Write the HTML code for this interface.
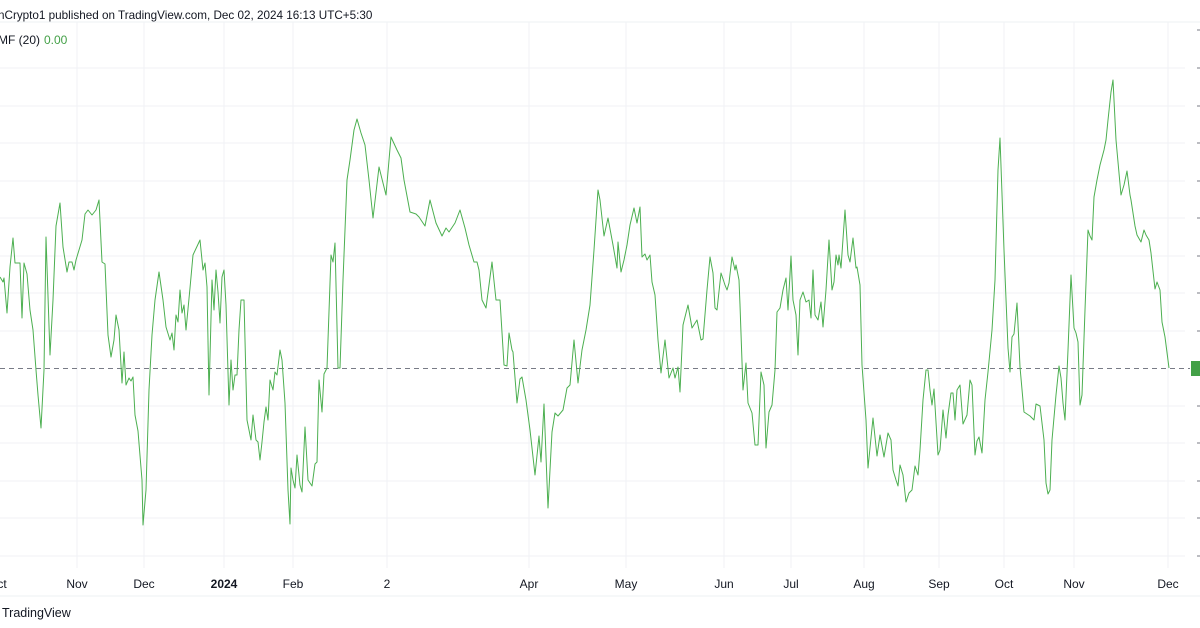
<!DOCTYPE html>
<html><head><meta charset="utf-8"><style>
html,body{margin:0;padding:0;background:#fff;}
body{width:1200px;height:628px;overflow:hidden;position:relative;font-family:"Liberation Sans",sans-serif;}
</style></head><body>
<svg width="1200" height="628" viewBox="0 0 1200 628" xmlns="http://www.w3.org/2000/svg" style="position:absolute;left:0;top:0">
<text x="-2" y="19" font-size="11.7" fill="#131722">nCrypto1 published on TradingView.com, Dec 02, 2024 16:13 UTC+5:30</text>
<line x1="0" y1="22" x2="1200" y2="22" stroke="#eef0f3"/>
<g stroke="#f0f2f5" stroke-width="1">
<line x1="0" y1="68" x2="1185" y2="68"/><line x1="0" y1="106" x2="1185" y2="106"/><line x1="0" y1="143" x2="1185" y2="143"/><line x1="0" y1="181" x2="1185" y2="181"/><line x1="0" y1="218" x2="1185" y2="218"/><line x1="0" y1="256" x2="1185" y2="256"/><line x1="0" y1="293" x2="1185" y2="293"/><line x1="0" y1="331" x2="1185" y2="331"/><line x1="0" y1="406" x2="1185" y2="406"/><line x1="0" y1="443" x2="1185" y2="443"/><line x1="0" y1="481" x2="1185" y2="481"/><line x1="0" y1="518" x2="1185" y2="518"/><line x1="0" y1="556" x2="1185" y2="556"/>
<line x1="77" y1="22" x2="77" y2="568"/><line x1="144" y1="22" x2="144" y2="568"/><line x1="224" y1="22" x2="224" y2="568"/><line x1="293" y1="22" x2="293" y2="568"/><line x1="387" y1="22" x2="387" y2="568"/><line x1="529" y1="22" x2="529" y2="568"/><line x1="626" y1="22" x2="626" y2="568"/><line x1="724" y1="22" x2="724" y2="568"/><line x1="791" y1="22" x2="791" y2="568"/><line x1="864" y1="22" x2="864" y2="568"/><line x1="939" y1="22" x2="939" y2="568"/><line x1="1004" y1="22" x2="1004" y2="568"/><line x1="1074" y1="22" x2="1074" y2="568"/><line x1="1168" y1="22" x2="1168" y2="568"/>
</g>
<line x1="0" y1="368.5" x2="1190" y2="368.5" stroke="#787b86" stroke-dasharray="5,4"/>
<text x="-2" y="44" font-size="12" fill="#131722">MF (20)</text>
<text x="44" y="44" font-size="12" fill="#43a047">0.00</text>
<polyline fill="none" stroke="#4caf50" stroke-width="1" stroke-linejoin="round" points="0,277 3,282 4,278 7,313 10,267 13,238 15,263 20,263 22,318 24,263 27,274 30,310 33,330 36,370 38,395 41,428 44,370 46,237 50,355 53,300 56,226 60,203 63,247 67,272 69,262 72,262 74,270 76,260 79,250 82,240 85,214 88,210 92,215 96,210 99,200 102,262 105,264 108,335 111,357 114,340 116,315 119,330 122,383 124,352 126,385 129,378 131,381 133,377 135,415 138,431 142,480 143,525 146,490 149,390 152,335 155,300 159,272 163,300 166,327 170,340 172,333 174,350 176,315 178,322 180,290 182,313 184,305 186,330 190,288 193,255 200,240 203,270 205,263 207,287 209,395 212,280 214,310 216,270 218,292 220,323 222,277 224,270 226,305 229,405 231,360 233,390 235,375 237,375 239,330 241,300 244,300 247,420 251,440 253,415 256,440 258,442 260,460 262,442 264,422 266,407 268,420 270,380 273,390 275,372 277,375 280,350 282,360 285,403 288,490 290,524 291,468 293,480 295,488 297,455 300,485 302,492 305,427 308,480 312,486 315,464 317,462 319,380 322,412 324,374 327,368 331,255 333,262 335,243 338,368 340,368 343,280 347,180 350,160 354,130 357,119 361,133 365,145 369,180 373,218 379,167 386,195 391,137 397,150 401,158 404,180 410,212 416,214 419,217 425,226 430,200 436,223 442,236 446,228 449,232 455,223 460,210 465,228 469,245 474,262 477,262 479,270 482,300 486,308 492,262 496,300 500,300 504,365 507,366 509,333 512,350 513,352 517,403 520,379 522,377 526,400 530,430 535,475 539,436 541,462 544,404 548,508 552,432 555,413 558,416 563,410 567,388 570,385 574,340 578,383 582,350 586,330 590,305 594,250 598,190 600,200 604,236 608,218 613,245 617,268 618,242 621,272 624,260 627,245 630,225 634,208 637,223 640,207 642,257 645,254 647,260 650,255 652,282 655,295 658,340 661,373 665,340 669,378 673,368 675,378 678,367 680,392 683,325 688,305 692,328 697,320 701,340 703,339 707,290 710,257 713,273 715,308 717,310 721,273 725,285 727,290 729,283 732,257 735,270 736,265 739,280 740,305 743,390 746,363 748,403 752,413 755,445 758,445 761,372 764,385 766,448 769,412 772,405 775,370 777,312 780,308 783,290 786,278 788,310 791,256 793,300 796,315 798,355 800,300 803,292 806,302 809,300 811,318 813,270 815,315 818,320 821,302 823,327 826,290 829,240 832,290 834,282 836,255 838,265 839,255 841,268 845,210 848,255 850,262 853,238 856,268 857,267 860,285 862,365 866,420 868,468 873,418 877,456 880,435 884,457 888,433 891,440 893,470 896,480 898,486 900,465 903,475 906,502 909,493 912,490 915,466 918,475 920,450 923,400 926,370 928,370 930,390 932,405 934,389 938,455 940,450 943,410 946,438 948,415 951,393 953,393 955,420 957,390 960,385 963,424 967,415 970,380 972,385 975,455 977,441 979,437 982,453 985,400 988,372 992,330 995,280 998,170 1000,138 1004,250 1008,348 1010,372 1012,337 1014,334 1017,303 1020,367 1024,412 1030,416 1032,418 1034,420 1036,404 1040,406 1044,440 1046,483 1048,494 1050,490 1052,440 1056,395 1059,366 1061,378 1063,403 1065,420 1068,350 1071,275 1074,328 1076,333 1078,342 1080,405 1082,395 1085,310 1088,230 1090,236 1092,240 1094,197 1097,180 1100,165 1104,150 1106,140 1108,120 1111,92 1113,80 1116,140 1121,195 1124,185 1127,171 1130,195 1131,200 1135,226 1137,235 1141,242 1144,230 1146,235 1149,240 1151,253 1155,289 1157,282 1160,290 1162,322 1165,337 1169,368"/>
<g stroke="#787b86" stroke-width="1">
<line x1="1197" y1="30" x2="1200" y2="30"/><line x1="1197" y1="68" x2="1200" y2="68"/><line x1="1197" y1="106" x2="1200" y2="106"/><line x1="1197" y1="143" x2="1200" y2="143"/><line x1="1197" y1="181" x2="1200" y2="181"/><line x1="1197" y1="218" x2="1200" y2="218"/><line x1="1197" y1="256" x2="1200" y2="256"/><line x1="1197" y1="293" x2="1200" y2="293"/><line x1="1197" y1="331" x2="1200" y2="331"/><line x1="1197" y1="406" x2="1200" y2="406"/><line x1="1197" y1="443" x2="1200" y2="443"/><line x1="1197" y1="481" x2="1200" y2="481"/><line x1="1197" y1="518" x2="1200" y2="518"/><line x1="1197" y1="556" x2="1200" y2="556"/>
</g>
<rect x="1191" y="361" width="9" height="15" fill="#43a047"/>
<g font-size="12" fill="#131722" text-anchor="middle">
<text x="2" y="588">ct</text><text x="77" y="588">Nov</text><text x="144" y="588">Dec</text><text x="224" y="588" font-weight="bold">2024</text><text x="293" y="588">Feb</text><text x="387" y="588">2</text><text x="529" y="588">Apr</text><text x="626" y="588">May</text><text x="724" y="588">Jun</text><text x="791" y="588">Jul</text><text x="864" y="588">Aug</text><text x="939" y="588">Sep</text><text x="1004" y="588">Oct</text><text x="1074" y="588">Nov</text><text x="1168" y="588">Dec</text>
</g>
<line x1="0" y1="596" x2="1200" y2="596" stroke="#eef0f3"/>
<text x="2" y="617" font-size="12.5" fill="#131722">TradingView</text>
</svg>
</body></html>
